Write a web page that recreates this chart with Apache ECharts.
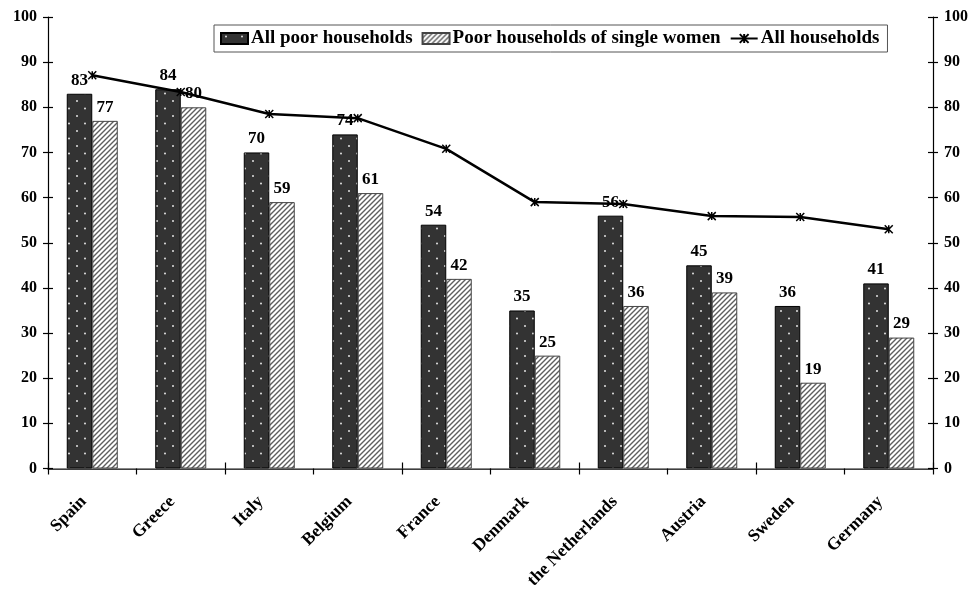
<!DOCTYPE html>
<html>
<head>
<meta charset="utf-8">
<style>
  html, body { margin: 0; padding: 0; background: #fff; }
  #chart { width: 971px; height: 592px; }
</style>
<script src="https://cdn.jsdelivr.net/npm/echarts@6/dist/echarts.min.js"></script>
</head>
<body>
<div id="chart"></div>
<script>
// Share of households (%) by country
const countries = ['Spain', 'Greece', 'Italy', 'Belgium', 'France', 'Denmark',
  'the Netherlands', 'Austria', 'Sweden', 'Germany'];
const allPoor = [83, 84, 70, 74, 54, 35, 56, 45, 36, 41];
const singleWomen = [77, 80, 59, 61, 42, 25, 36, 39, 19, 29];
const allHouseholds = [87.1, 83.4, 78.5, 77.6, 70.8, 59.0, 58.6, 55.9, 55.7, 53.0];
const yTicks = [0, 10, 20, 30, 40, 50, 60, 70, 80, 90, 100];

const FONT = '"Liberation Serif", "Times New Roman", serif';

// Dark fill with staggered light dots
function dotPattern() {
  const c = document.createElement('canvas');
  c.width = 16; c.height = 15;
  const g = c.getContext('2d');
  g.fillStyle = '#333333';
  g.fillRect(0, 0, 16, 15);
  g.fillStyle = '#e2e2e2';
  [[5, 3.5], [13, 11]].forEach(([x, y]) => {
    g.beginPath(); g.arc(x, y, 1.0, 0, Math.PI * 2); g.fill();
  });
  return c;
}

// White fill with fine diagonal hatching
function hatchPattern() {
  const s = 5;
  const c = document.createElement('canvas');
  c.width = s; c.height = s;
  const g = c.getContext('2d');
  g.fillStyle = '#ffffff';
  g.fillRect(0, 0, s, s);
  g.strokeStyle = '#5e5e5e';
  g.lineWidth = 1.4;
  g.beginPath();
  g.moveTo(-1, s + 1); g.lineTo(s + 1, -1);
  g.moveTo(-1, 1); g.lineTo(1, -1);
  g.moveTo(s - 1, s + 1); g.lineTo(s + 1, s - 1);
  g.stroke();
  return c;
}

const asterisk = 'path://M0,0L10,10M10,0L0,10M5,0L5,10';

const labelStyle = {
  show: true,
  position: 'top',
  distance: 5,
  fontFamily: FONT,
  fontWeight: 'bold',
  fontSize: 17,
  color: '#000'
};

function valueAxis(pos, inside, showLabels) {
  return {
    type: 'value',
    position: pos,
    min: 0,
    max: 100,
    interval: 10,
    splitLine: { show: false },
    axisLine: { show: !inside, lineStyle: { color: '#000', width: 1.2 } },
    axisTick: { show: true, inside: inside, length: 5, lineStyle: { color: '#000', width: 1.2 } },
    axisLabel: {
      show: showLabels,
      margin: 11,
      fontFamily: FONT,
      fontWeight: 'bold',
      fontSize: 16,
      color: '#000',
      formatter: v => (yTicks.indexOf(v) >= 0 ? String(v) : '')
    }
  };
}

const chart = echarts.init(document.getElementById('chart'), null, { renderer: 'canvas' });

chart.setOption({
  backgroundColor: '#fff',
  animation: false,
  grid: { left: 48, right: 38, top: 17, bottom: 123.5, containLabel: false },
  legend: {
    left: 214,
    top: 25,
    padding: [4, 8, 4, 6],
    itemGap: 9,
    itemWidth: 27,
    itemHeight: 11,
    borderColor: '#555',
    borderWidth: 1,
    borderRadius: 0,
    backgroundColor: '#fff',
    textStyle: { fontFamily: FONT, fontWeight: 'bold', fontSize: 19, color: '#000', padding: [1, 0, 0, -2] },
    data: [
      { name: 'All poor households', icon: 'rect' },
      { name: 'Poor households of single women', icon: 'rect' },
      { name: 'All households' }
    ]
  },
  xAxis: [
    {
      type: 'category',
      data: countries,
      position: 'bottom',
      axisLine: { lineStyle: { color: '#000', width: 1.5 } },
      axisTick: { show: true, length: 6, lineStyle: { color: '#000', width: 1.2 } },
      axisLabel: {
        rotate: 45,
        margin: 22,
        interval: 0,
        padding: [0, 12, 0, 0],
        fontFamily: FONT,
        fontWeight: 'bold',
        fontSize: 17.5,
        color: '#000'
      }
    },
    {
      type: 'category',
      data: countries,
      position: 'bottom',
      axisLine: { show: false },
      axisTick: { show: true, inside: true, length: 6, lineStyle: { color: '#000', width: 1.2 } },
      axisLabel: { show: false }
    },
    {
      type: 'category',
      data: countries,
      position: 'top',
      axisLine: { show: true, lineStyle: { color: '#888', width: 1 } },
      axisTick: { show: false },
      axisLabel: { show: false }
    }
  ],
  yAxis: [
    valueAxis('left', false, true),
    valueAxis('right', false, true),
    valueAxis('left', true, false),
    valueAxis('right', true, false)
  ],
  series: [
    {
      name: 'All poor households',
      type: 'bar',
      data: allPoor,
      barWidth: 25.5,
      barGap: '0%',
      itemStyle: {
        color: { image: dotPattern(), repeat: 'repeat' },
        borderColor: '#000',
        borderWidth: 1
      },
      label: labelStyle,
      z: 2
    },
    {
      name: 'Poor households of single women',
      type: 'bar',
      data: singleWomen,
      barWidth: 25.5,
      barGap: '0%',
      itemStyle: {
        color: { image: hatchPattern(), repeat: 'repeat' },
        borderColor: '#444',
        borderWidth: 1
      },
      label: labelStyle,
      z: 2
    },
    {
      name: 'All households',
      type: 'line',
      data: allHouseholds,
      symbol: asterisk,
      symbolSize: 8,
      showAllSymbol: true,
      lineStyle: { color: '#000', width: 2.5 },
      itemStyle: { color: '#000', borderColor: '#000', borderWidth: 1.5 },
      label: { show: false },
      z: 3
    }
  ]
});
</script>
</body>
</html>
